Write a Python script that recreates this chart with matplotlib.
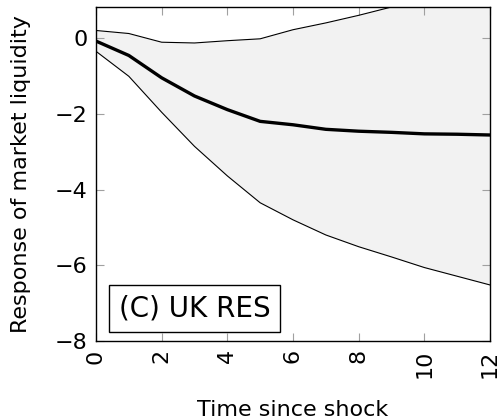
import matplotlib
matplotlib.use("Agg")
import matplotlib.pyplot as plt

horizon = [0, 1, 2, 3, 4, 5, 6, 7, 8, 9, 10, 11, 12]
median = [-0.08, -0.46, -1.05, -1.53, -1.89, -2.20, -2.29, -2.41, -2.46, -2.49, -2.53, -2.54, -2.56]
upper = [0.20, 0.12, -0.11, -0.13, -0.07, -0.02, 0.22, 0.40, 0.60, 0.82, 1.05, 1.30, 1.55]
lower = [-0.35, -1.01, -1.96, -2.86, -3.64, -4.35, -4.80, -5.20, -5.51, -5.78, -6.06, -6.29, -6.52]
xticks = [0, 2, 4, 6, 8, 10, 12]
yticks = [0, -2, -4, -6, -8]

plt.rcParams['font.family'] = ['DejaVu Sans']
fig = plt.figure(figsize=(5.02, 4.19), dpi=100)
ax = fig.add_axes([96/502, 1-341/419, 394/502, 334/419])

ax.fill_between(horizon, lower, upper, color='#f2f2f2', linewidth=0)
ax.plot(horizon, upper, color='black', lw=0.8)
ax.plot(horizon, lower, color='black', lw=0.8)
ax.plot(horizon, median, color='black', lw=2.4)

ax.set_xlim(0, 12)
ax.set_ylim(-8, 0.82)
ax.set_xticks(xticks)
ax.set_xticklabels([str(t) for t in xticks], rotation=90, fontsize=16)
ax.set_yticks(yticks)
ax.set_yticklabels([('\u2212' + str(-t)) if t < 0 else str(t) for t in yticks], fontsize=16)
ax.tick_params(direction='in', length=6, width=0.8, color='#a0a0a0', top=True, right=True, pad=6)
for s in ax.spines.values():
    s.set_linewidth(1.0)

ax.set_xlabel('Time since shock', fontsize=16, labelpad=16)
ax.set_ylabel('Response of market liquidity', fontsize=16, labelpad=17)

ax.text(0.058, 0.098, '(C) UK RES', transform=ax.transAxes, fontsize=20,
        ha='left', va='center',
        bbox=dict(boxstyle='square,pad=0.35', facecolor='white', edgecolor='black', linewidth=1.0))

fig.savefig('out.png', dpi=100)
